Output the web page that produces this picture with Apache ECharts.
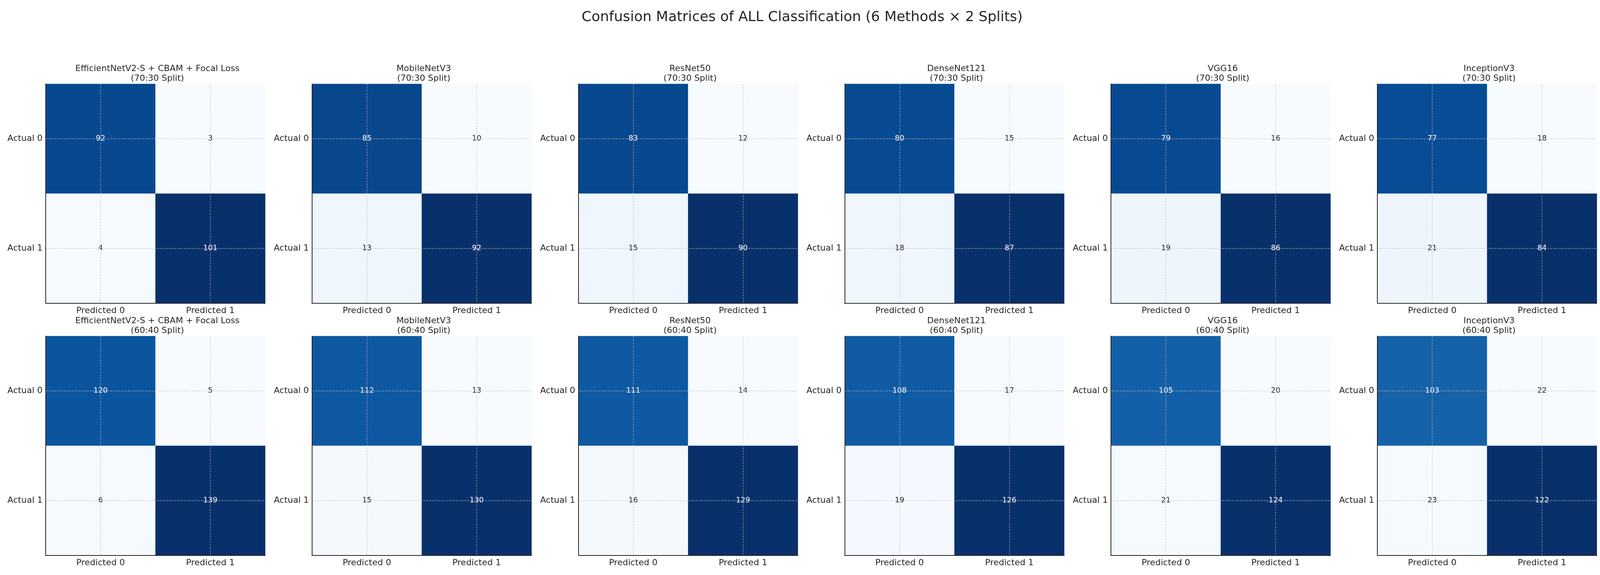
<!DOCTYPE html>
<html><head><meta charset="utf-8">
<script src="https://cdn.jsdelivr.net/npm/echarts@6/dist/echarts.min.js"></script>
<style>html,body{margin:0;padding:0;background:#fff}#c{width:4107px;height:1473px}</style>
</head><body><div id="c"></div>
<script>
// ---- data ----
const mainTitle = 'Confusion Matrices of ALL Classification (6 Methods \u00d7 2 Splits)';
const methods = ['EfficientNetV2-S + CBAM + Focal Loss', 'MobileNetV3', 'ResNet50', 'DenseNet121', 'VGG16', 'InceptionV3'];
const splits = ['70:30 Split', '60:40 Split'];
const predictedLabels = ['Predicted 0', 'Predicted 1'];
const actualLabels = ['Actual 0', 'Actual 1'];
// each matrix: [TN, FP, FN, TP]  (row = actual, column = predicted)
const split7030 = [[92, 3, 4, 101], [85, 10, 13, 92], [83, 12, 15, 90], [80, 15, 18, 87], [79, 16, 19, 86], [77, 18, 21, 84]];
const split6040 = [[120, 5, 6, 139], [112, 13, 15, 130], [111, 14, 16, 129], [108, 17, 19, 126], [105, 20, 21, 124], [103, 22, 23, 122]];
const splitData = [split7030, split6040];

// ---- style / layout ----
const FONT = 'DejaVu Sans';
const BLUES = ['#f7fbff', '#deebf7', '#c6dbef', '#9ecae1', '#6baed6', '#4292c6', '#2171b5', '#08519c', '#08306b'];
const GRID_LEFT0 = 117, GRID_STEP = 681.8, GRID_SIZE = 562;
const GRID_TOPS = [215, 861];

const grids = [], xAxes = [], yAxes = [], series = [], visualMaps = [], titles = [];
titles.push({
  text: mainTitle, left: 'center', top: 22,
  textStyle: { fontFamily: FONT, fontSize: 36, fontWeight: 'normal', color: '#262626' }
});

let k = 0;
for (let r = 0; r < 2; r++) {
  for (let c = 0; c < 6; c++) {
    const m = splitData[r][c];
    const left = GRID_LEFT0 + c * GRID_STEP;
    const top = GRID_TOPS[r];
    grids.push({ left: left, top: top, width: GRID_SIZE, height: GRID_SIZE, containLabel: false });
    titles.push({
      text: methods[c] + '\n(' + splits[r] + ')',
      left: left + GRID_SIZE / 2, top: top - 56, textAlign: 'center',
      textStyle: { fontFamily: FONT, fontSize: 22, fontWeight: 'normal', color: '#262626', lineHeight: 25 }
    });
    const axisCommon = {
      type: 'category', gridIndex: k, z: 10,
      axisLine: { lineStyle: { color: '#262626', width: 2 } },
      axisTick: { alignWithLabel: true, length: 5, lineStyle: { color: '#262626', width: 2 } },
      axisLabel: { fontFamily: FONT, fontSize: 22, color: '#262626', margin: 8 },
      splitLine: { show: false }, splitArea: { show: false }
    };
    xAxes.push(Object.assign({}, axisCommon, { data: predictedLabels, position: 'bottom' }));
    yAxes.push(Object.assign({}, axisCommon, { data: actualLabels, inverse: true, position: 'left' }));
    const mn = Math.min.apply(null, m), mx = Math.max.apply(null, m);
    const items = [];
    for (let i = 0; i < 2; i++) {
      for (let j = 0; j < 2; j++) {
        const v = m[i * 2 + j];
        items.push({ value: [j, i, v], label: { color: v > mx / 2 ? '#ffffff' : '#262626' } });
      }
    }
    visualMaps.push({
      type: 'continuous', show: false, seriesIndex: k, dimension: 2,
      min: mn, max: mx, inRange: { color: BLUES }
    });
    series.push({
      type: 'heatmap', xAxisIndex: k, yAxisIndex: k, data: items, z: 2,
      label: { show: true, fontFamily: FONT, fontSize: 19 },
      itemStyle: { borderWidth: 0 },
      emphasis: { disabled: true },
      markLine: {
        silent: true, symbol: ['none', 'none'], label: { show: false },
        lineStyle: { type: [5, 2.5], color: 'rgba(190,190,190,0.75)', width: 1.3 },
        data: [{ xAxis: predictedLabels[0] }, { xAxis: predictedLabels[1] },
               { yAxis: actualLabels[0] }, { yAxis: actualLabels[1] }]
      }
    });
    k++;
  }
}

const chart = echarts.init(document.getElementById('c'), null, { renderer: 'canvas' });
chart.setOption({
  animation: false,
  backgroundColor: '#ffffff',
  title: titles,
  grid: grids, xAxis: xAxes, yAxis: yAxes,
  visualMap: visualMaps,
  series: series
});
</script>
</body></html>
